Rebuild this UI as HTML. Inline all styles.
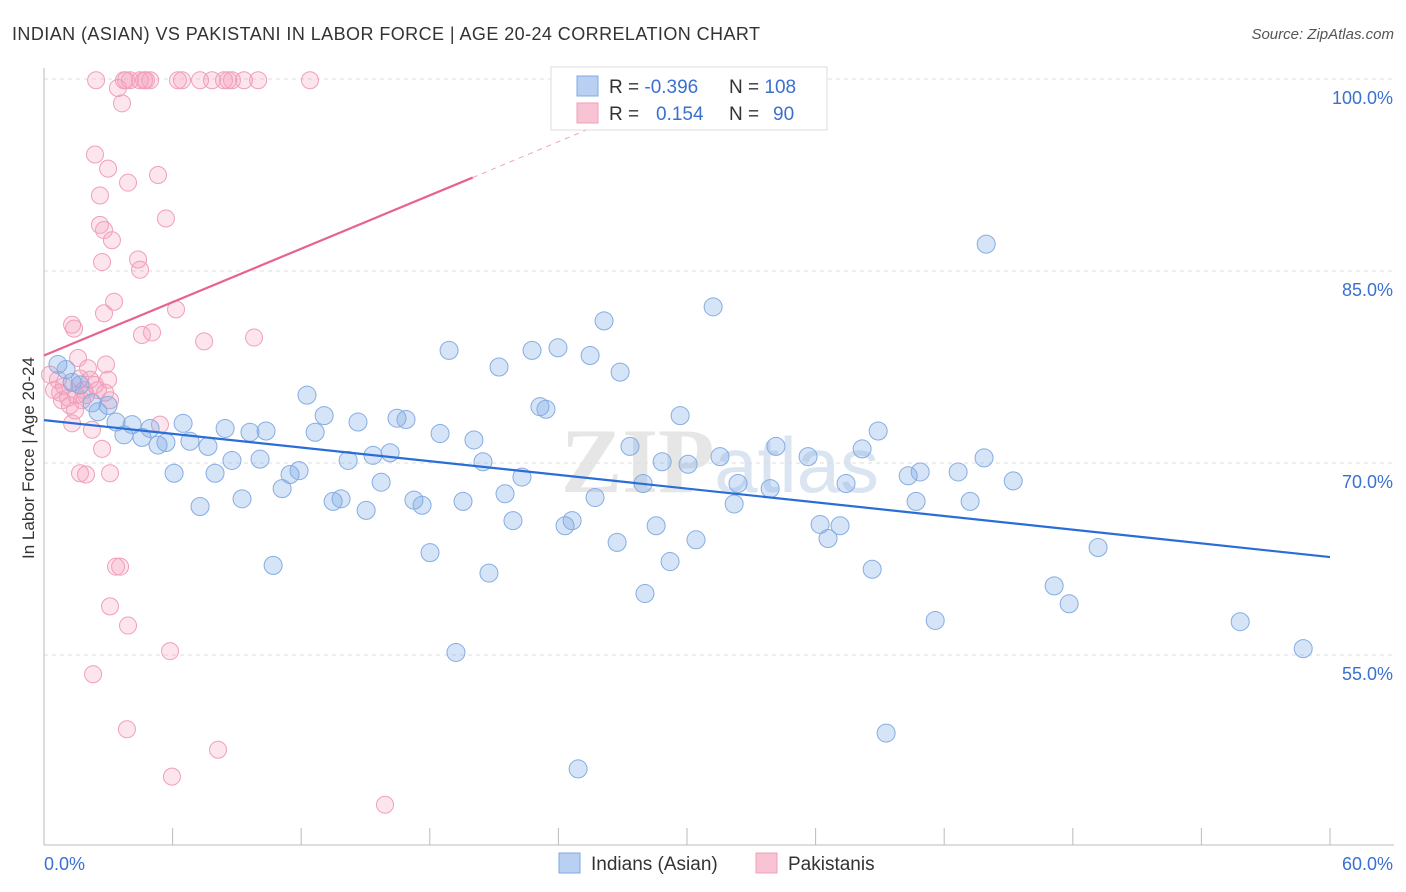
<!DOCTYPE html>
<html><head><meta charset="utf-8">
<style>
body{margin:0;background:#fff;font-family:"Liberation Sans",sans-serif;}
svg{display:block}
</style></head>
<body>
<svg id="chart" width="1406" height="892">
<text x="12" y="40" font-size="18" fill="#333" textLength="748">INDIAN (ASIAN) VS PAKISTANI IN LABOR FORCE | AGE 20-24 CORRELATION CHART</text>
<text x="1394" y="39" font-size="15" fill="#555" font-style="italic" text-anchor="end">Source: ZipAtlas.com</text>
<text x="720" y="492" font-size="92" fill="#e6e6e6" font-family="Liberation Serif" text-anchor="middle" font-weight="bold">ZIP<tspan font-family="Liberation Sans" font-weight="normal" fill="#dbe5f2" font-size="78">atlas</tspan></text>
<g id="grid"></g>
<g id="axes"></g>
<g id="pts"></g>
<g id="trend"></g>
<text x="34" y="458" font-size="17" fill="#333" text-anchor="middle" transform="rotate(-90 34 458)">In Labor Force | Age 20-24</text>
<g>
<rect x="551" y="67" width="276" height="63" fill="#fff" stroke="#ddd"/>
<rect x="577" y="76" width="21" height="20" fill="#b9d0f2" stroke="#7fa8e0"/>
<rect x="577" y="103" width="21" height="20" fill="#f8c4d4" stroke="#f0a0b8"/>
<text x="609" y="93" font-size="19" fill="#333">R = <tspan fill="#3a70d0">-0.396</tspan></text>
<text x="729" y="93" font-size="19" fill="#333">N = <tspan fill="#3a70d0">108</tspan></text>
<text x="609" y="120" font-size="19" fill="#333">R = <tspan fill="#3a70d0" x="656">0.154</tspan></text>
<text x="729" y="120" font-size="19" fill="#333">N = <tspan fill="#3a70d0" x="773">90</tspan></text>
</g>
<g>
<rect x="559" y="853" width="21" height="20" fill="#b9d0f2" stroke="#7fa8e0"/>
<text x="591" y="870" font-size="19" fill="#333">Indians (Asian)</text>
<rect x="756" y="853" width="21" height="20" fill="#f8c4d4" stroke="#f0a0b8"/>
<text x="788" y="870" font-size="19" fill="#333">Pakistanis</text>
</g>
</svg>
<script>
const xTicks=[0,6,12,18,24,30,36,42,48,54,60];
const yTicks=[100,85,70,55];
const yTickLabels=["100.0%","85.0%","70.0%","55.0%"];
const blueX=[0.65,1.03,1.31,1.68,2.24,2.52,2.99,3.36,3.73,4.11,4.57,4.95,5.32,5.69,6.07,6.49,6.81,7.28,7.65,7.98,8.45,8.77,9.24,9.61,10.08,10.36,10.69,11.11,11.48,11.90,12.27,12.65,13.07,13.49,13.86,14.19,14.65,15.03,15.35,15.73,16.15,16.47,16.89,17.26,17.64,18.01,18.48,18.90,19.22,19.55,20.06,20.48,20.76,21.23,21.51,21.88,22.30,22.77,23.14,23.42,23.98,24.31,24.64,24.92,25.48,25.71,26.13,26.74,26.88,27.34,27.95,28.04,28.56,28.84,29.21,29.68,30.05,30.42,31.22,31.54,32.20,32.38,33.88,34.15,35.65,36.21,36.58,37.14,37.42,38.17,38.64,38.92,39.29,40.32,40.69,40.88,41.58,42.65,43.21,43.86,43.96,45.22,47.13,47.83,49.18,55.81,58.75];
const blueY=[77.7,77.3,76.3,76.1,74.7,74.0,74.5,73.2,72.2,73.0,72.0,72.7,71.4,71.6,69.2,73.1,71.7,66.6,71.3,69.2,72.7,70.2,67.2,72.4,70.3,72.5,62.0,68.0,69.1,69.4,75.3,72.4,73.7,67.0,67.2,70.2,73.2,66.3,70.6,68.5,70.8,73.5,73.4,67.1,66.7,63.0,72.3,78.8,55.2,67.0,71.8,70.1,61.4,77.5,67.6,65.5,68.9,78.8,74.4,74.2,79.0,65.1,65.5,46.1,78.4,67.3,81.1,63.8,77.1,71.3,68.4,59.8,65.1,70.1,62.3,73.7,69.9,64.0,82.2,70.5,66.8,68.4,68.0,71.3,70.5,65.2,64.1,65.1,68.4,71.1,61.7,72.5,48.9,69.0,67.0,69.3,57.7,69.3,67.0,70.4,87.1,68.6,60.4,59.0,63.4,57.6,55.5];
const pinkX=[0.28,0.47,0.65,0.75,0.93,1.12,1.31,1.31,1.40,1.49,1.59,1.68,1.77,1.87,1.96,2.05,2.15,2.24,2.38,2.43,2.52,2.61,2.61,2.71,2.71,2.80,2.80,2.89,2.99,3.08,3.08,3.17,3.27,3.36,3.45,3.55,3.64,3.73,3.83,3.92,3.92,4.01,4.39,4.48,4.48,4.57,4.67,4.76,4.95,5.04,5.32,5.41,5.69,5.88,5.97,6.16,6.25,6.44,7.28,7.47,7.84,8.12,8.40,8.59,8.77,9.33,9.80,9.99,12.41,15.91,2.29,3.87,3.08,1.68,1.96,2.38,2.85,0.84,1.21,1.45,2.99];
const pinkY=[76.9,75.7,76.5,75.5,76.0,75.1,80.8,73.1,80.5,75.3,78.2,76.6,74.9,75.7,75.3,77.4,76.5,72.6,94.1,99.9,75.7,90.9,88.6,85.7,71.1,88.2,81.7,77.7,93.0,74.9,69.2,87.4,82.6,61.9,99.3,61.9,98.1,99.9,99.9,91.9,57.3,99.9,85.9,85.1,99.9,80.0,99.9,99.9,99.9,80.2,92.5,73.0,89.1,55.3,45.5,82.0,99.9,99.9,99.9,79.5,99.9,47.6,99.9,99.9,99.9,99.9,79.8,99.9,99.9,43.3,53.5,49.2,58.8,69.2,69.1,76.1,75.5,74.9,74.5,74.1,76.5];
const blueTrendX=[0,60], blueTrendY=[73.35,62.65];
const pinkTrendX=[0,20], pinkTrendY=[78.4,92.3];
const pinkDashX=[20,26], pinkDashY=[92.3,96.5];

const NS="http://www.w3.org/2000/svg";
const X=v=>44+v*(1286/60);
const Y=v=>79+(100-v)*12.8;
function mk(tag,attrs,parent){const e=document.createElementNS(NS,tag);for(const k in attrs)e.setAttribute(k,attrs[k]);document.getElementById(parent).appendChild(e);return e;}

yTicks.forEach((t,i)=>{
 const g=mk('line',{x1:44,x2:1394,y1:Y(t),y2:Y(t),stroke:'#ddd','stroke-dasharray':'4,4'},'grid');
 
 
 const tx=mk('text',{x:1393,y:Y(t)+25,'font-size':18,fill:'#3a70d0','text-anchor':'end'},'axes');
 tx.textContent=yTickLabels[i];
 
 
});
const ax=mk('line',{x1:44,x2:44,y1:68,y2:845,stroke:'#bbb'},'axes');


const bx=mk('line',{x1:44,x2:1394,y1:845,y2:845,stroke:'#bbb'},'axes');


xTicks.forEach(t=>{
 const l=mk('line',{x1:X(t),x2:X(t),y1:828,y2:845,stroke:'#bbb'},'axes');
 
 
});
const xl0=mk('text',{x:44,y:870,'font-size':18,fill:'#3a70d0'},'axes');xl0.textContent='0.0%';


const xl1=mk('text',{x:1393,y:870,'font-size':18,fill:'#3a70d0','text-anchor':'end'},'axes');xl1.textContent='60.0%';



pinkX.forEach((v,i)=>{
 const c=mk('circle',{cx:X(v),cy:Y(pinkY[i]),r:8.5,fill:'rgba(245,160,190,0.28)',stroke:'#f0a0b8','stroke-width':1},'pts');
 
 
});
blueX.forEach((v,i)=>{
 const c=mk('circle',{cx:X(v),cy:Y(blueY[i]),r:9,fill:'rgba(120,165,230,0.3)',stroke:'#86ade2','stroke-width':1},'pts');
 
 
});
const bt=mk('line',{x1:X(blueTrendX[0]),y1:Y(blueTrendY[0]),x2:X(blueTrendX[1]),y2:Y(blueTrendY[1]),stroke:'#2a6dd6','stroke-width':2.2},'trend');


const pt=mk('line',{x1:X(pinkTrendX[0]),y1:Y(pinkTrendY[0]),x2:X(pinkTrendX[1]),y2:Y(pinkTrendY[1]),stroke:'#e8628e','stroke-width':2.2},'trend');


const pd=mk('line',{x1:X(pinkDashX[0]),y1:Y(pinkDashY[0]),x2:X(pinkDashX[1]),y2:Y(pinkDashY[1]),stroke:'#f0a0b8','stroke-width':1,'stroke-dasharray':'5,5'},'trend');


</script>
</body></html>
